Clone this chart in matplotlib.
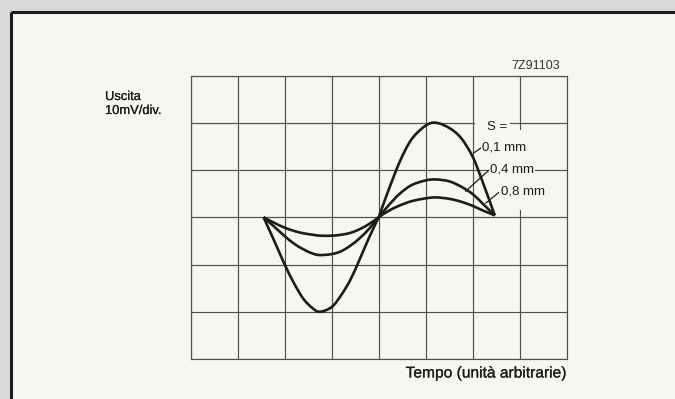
import matplotlib
matplotlib.use("Agg")
import matplotlib.pyplot as plt
import matplotlib.patheffects as pe
from matplotlib.patches import Rectangle, PathPatch
from matplotlib.path import Path

plt.rcParams['font.family'] = ['Liberation Sans', 'DejaVu Sans']

# time axis in grid divisions, output in divisions (10 mV/div)
tempo = [1.55, 1.8, 2.0, 2.2, 2.4, 2.6, 2.75, 3.0, 3.2, 3.4, 3.6, 3.8, 4.0,
         4.2, 4.45, 4.7, 5.0, 5.22, 5.5, 5.75, 6.0, 6.2, 6.47]
s_01 = [0, -0.55, -1.0, -1.4, -1.73, -1.93, -2.0, -1.9, -1.65, -1.32, -0.88, -0.42, 0,
        0.55, 1.18, 1.65, 1.94, 2.0, 1.89, 1.68, 1.28, 0.78, 0.04]
s_04 = [0, -0.22, -0.4, -0.56, -0.68, -0.77, -0.8, -0.78, -0.72, -0.6, -0.44, -0.24, 0,
        0.24, 0.5, 0.68, 0.78, 0.8, 0.76, 0.65, 0.49, 0.3, 0.04]
s_08 = [0, -0.13, -0.22, -0.29, -0.34, -0.37, -0.39, -0.39, -0.37, -0.33, -0.25, -0.14, 0,
        0.13, 0.25, 0.34, 0.4, 0.42, 0.39, 0.33, 0.24, 0.15, 0.04]
etichette = ["0,1 mm", "0,4 mm", "0,8 mm"]

W, H = 675, 399
paper = "#f7f6f1"
ink = "#1c1c1c"


def smooth_path(xs, ys, breaks=(0, 12, 22)):
    # cubic Bezier through the points; separate pieces meet with a corner at each break
    verts, codes = [], []
    for a, b in zip(breaks[:-1], breaks[1:]):
        px, py = xs[a:b + 1], ys[a:b + 1]
        n = len(px)
        if not verts:
            verts.append((px[0], py[0]))
            codes.append(Path.MOVETO)
        for i in range(n - 1):
            x0, y0 = px[max(i - 1, 0)], py[max(i - 1, 0)]
            x1, y1 = px[i], py[i]
            x2, y2 = px[i + 1], py[i + 1]
            x3, y3 = px[min(i + 2, n - 1)], py[min(i + 2, n - 1)]
            verts += [(x1 + (x2 - x0) / 6, y1 + (y2 - y0) / 6),
                      (x2 - (x3 - x1) / 6, y2 - (y3 - y1) / 6),
                      (x2, y2)]
            codes += [Path.CURVE4] * 3
    return Path(verts, codes)


fig = plt.figure(figsize=(W / 100, H / 100), dpi=100)
fig.patch.set_facecolor("#dadad8")

# page background and frame, in pixel coordinates
bg = fig.add_axes([0, 0, 1, 1])
bg.set_xlim(0, W)
bg.set_ylim(H, 0)
bg.axis("off")
bg.add_patch(Rectangle((11, 12), W - 11, H - 12, facecolor=paper, edgecolor="none"))
bg.plot([11, W], [12, 12], color=ink, lw=2.2, solid_capstyle="butt")
bg.plot([11, 11], [12, H], color=ink, lw=2.2, solid_capstyle="butt")

# graticule
gx0, gx1, gy0, gy1 = 190.7, 566.7, 75.5, 359.0
ax = fig.add_axes([gx0 / W, 1 - gy1 / H, (gx1 - gx0) / W, (gy1 - gy0) / H])
ax.set_facecolor("none")
ax.set_xlim(0, 8)
ax.set_ylim(-3, 3)
ax.set_xticks(range(9))
ax.set_yticks(range(-3, 4))
ax.tick_params(length=0, labelbottom=False, labelleft=False)
ax.grid(True, color="#505050", lw=0.85)
for sp in ax.spines.values():
    sp.set_color("#505050")
    sp.set_linewidth(0.85)

# blank strip of graticule behind the legend
ax.add_patch(Rectangle((6.05, 1.9), 0.75, 0.15, facecolor=paper, edgecolor="none", zorder=2))
ax.add_patch(Rectangle((6.93, 0.15), 0.14, 1.7, facecolor=paper, edgecolor="none", zorder=2))

for serie in (s_01, s_04, s_08):
    ax.add_patch(PathPatch(smooth_path(tempo, serie), facecolor="none",
                           edgecolor=ink, lw=1.9, joinstyle="round", zorder=3))

# leader lines to the curves
ax.plot([6.18, 6.02], [1.47, 1.36], color=ink, lw=0.9, zorder=4)
ax.plot([6.35, 5.85], [1.0, 0.55], color=ink, lw=0.9, zorder=4)
ax.plot([6.55, 6.28], [0.52, 0.3], color=ink, lw=0.9, zorder=4)

# text layer
tx = fig.add_axes([0, 0, 1, 1])
tx.set_facecolor("none")
tx.set_xlim(0, W)
tx.set_ylim(H, 0)
tx.axis("off")

heavy = [pe.withStroke(linewidth=0.15, foreground=ink)]
box = dict(facecolor=paper, edgecolor="none", pad=1.0)
tx.text(105, 97, "Uscita", fontsize=9.3, color=ink, va="center", ha="left",
        path_effects=heavy)
tx.text(105, 111, "10mV/div.", fontsize=9.3, color=ink, va="center", ha="left",
        path_effects=heavy)
tx.text(536, 66, "7Z91103", fontsize=9, color="#333333", va="center", ha="center")
tx.text(486, 373, "Tempo (unità arbitrarie)", fontsize=11.2, color=ink,
        va="center", ha="center", path_effects=heavy)
tx.text(487, 127, "S =", fontsize=9.5, color=ink, va="center", ha="left", bbox=box)
for (x, y), lab in zip([(482, 148), (490, 169), (501, 191)], etichette):
    tx.text(x, y, lab, fontsize=9.5, color=ink, va="center", ha="left", bbox=box)

fig.savefig("out.png", dpi=100, facecolor=fig.get_facecolor())
